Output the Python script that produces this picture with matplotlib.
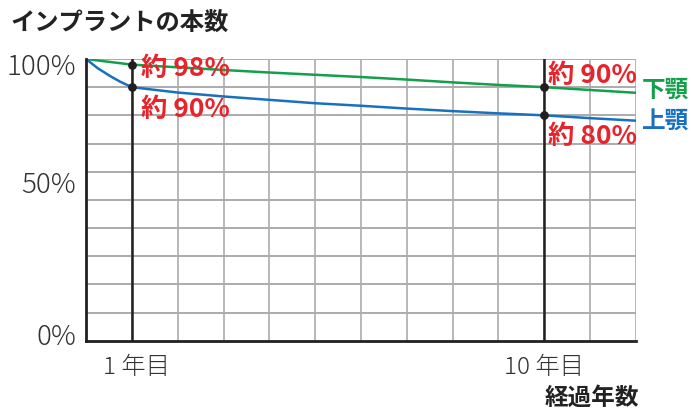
import matplotlib
matplotlib.use("Agg")
import matplotlib.pyplot as plt

plt.rcParams['font.family'] = ['Noto Sans CJK JP', 'DejaVu Sans']

years = [0, 0.25, 0.5, 0.75, 1, 2, 3, 4, 5, 6, 7, 8, 9, 10, 11, 12]
lower_jaw = [100, 99.5, 99.0, 98.5, 98, 97.05, 96.1, 95.2, 94.4, 93.6, 92.7, 91.7, 90.8, 90, 89.0, 88.0]
upper_jaw = [100, 96.8, 94.2, 91.9, 90, 88.1, 86.7, 85.5, 84.3, 83.4, 82.4, 81.5, 80.7, 80, 79.0, 78.1]

marker_years = [1, 10]
lower_marks = [98, 90]
upper_marks = [90, 80]
lower_labels = ['約 98%', '約 90%']
upper_labels = ['約 90%', '約 80%']
y_tick_labels = ['100%', '50%', '0%']
x_tick_labels = ['1 年目', '10 年目']

GREEN = '#14a04a'
BLUE = '#1870bf'
RED = '#e8232b'
GRID = '#ababab'
DARK = '#231f20'

W, H = 691, 414
fig = plt.figure(figsize=(W / 100, H / 100), dpi=100)
ax = fig.add_axes([86 / W, 1 - 341.7 / H, (636 - 86) / W, (341.7 - 60) / H])
ax.set_xlim(0, 12)
ax.set_ylim(0, 100)

for x in range(1, 13):
    ax.axvline(x, color=GRID, lw=1.2, zorder=1)
for y in range(10, 101, 10):
    ax.axhline(y, color=GRID, lw=1.4, zorder=1)
for x in marker_years:
    ax.axvline(x, color=DARK, lw=1.8, zorder=3)

for s in ['top', 'right']:
    ax.spines[s].set_visible(False)
for s in ['left', 'bottom']:
    ax.spines[s].set_color(DARK)
    ax.spines[s].set_linewidth(2.0)
    ax.spines[s].set_zorder(5)
ax.set_xticks([])
ax.set_yticks([])

ax.plot(years, lower_jaw, color=GREEN, lw=1.8, zorder=4)
ax.plot(years, upper_jaw, color=BLUE, lw=1.8, zorder=4)
ax.scatter(marker_years, lower_marks, s=28, color=DARK, zorder=6)
ax.scatter(marker_years, upper_marks, s=28, color=DARK, zorder=6)

lab_kw = dict(color=RED, fontsize=19, fontweight='bold', ha='left', va='center', zorder=7)
ax.text(1.2, 97.0, lower_labels[0], **lab_kw)
ax.text(1.2, 82.5, upper_labels[0], **lab_kw)
ax.text(10.07, 94.6, lower_labels[1], **lab_kw)
ax.text(10.07, 73.0, upper_labels[1], **lab_kw)

ax.text(12.12, 89.5, '下顎', color=GREEN, fontsize=17, fontweight='bold',
        ha='left', va='center', clip_on=False)
ax.text(12.12, 78.1, '上顎', color=BLUE, fontsize=17, fontweight='bold',
        ha='left', va='center', clip_on=False)

tick_kw = dict(color='#333333', fontsize=20, fontweight='light', va='center', clip_on=False)
for lab, py in zip(y_tick_labels, [67, 185, 337]):
    fig.text(76 / W, 1 - py / H, lab, ha='right', **tick_kw)

for lab, px in zip(x_tick_labels, [136.5, 544]):
    fig.text(px / W, 1 - 367 / H, lab, ha='center', color='#333333', fontsize=17.5,
             fontweight='light', va='center')

fig.text(10 / W, 1 - 23 / H, 'インプラントの本数', color='#222222', fontsize=17.5,
         fontweight='bold', ha='left', va='center')
fig.text(592 / W, 1 - 398 / H, '経過年数', color='#222222', fontsize=17,
         fontweight='bold', ha='center', va='center')

fig.savefig('out.png', dpi=100, facecolor='white')
